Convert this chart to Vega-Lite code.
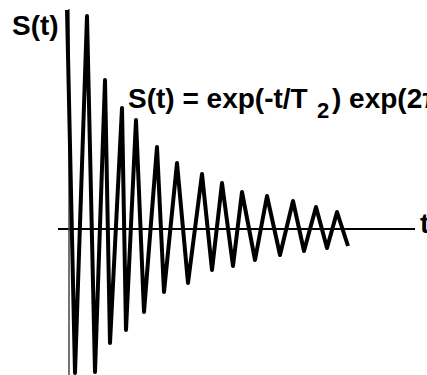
{
  "$schema": "https://vega.github.io/schema/vega-lite/v6.json",
  "width": 427,
  "height": 375,
  "padding": 0,
  "autosize": {"type": "none"},
  "background": "white",
  "config": {"view": {"stroke": null}},
  "datasets": {
    "signal": [
      {"t": -0.2, "S": 2.19},
      {"t": 0.6, "S": -1.44},
      {"t": 1.8, "S": 2.13},
      {"t": 2.6, "S": -1.43},
      {"t": 3.6, "S": 1.49},
      {"t": 4.1, "S": -1.14},
      {"t": 5.3, "S": 1.21},
      {"t": 5.7, "S": -1.01},
      {"t": 6.7, "S": 1.09},
      {"t": 7.5, "S": -0.83},
      {"t": 8.8, "S": 0.82},
      {"t": 9.5, "S": -0.63},
      {"t": 10.8, "S": 0.66},
      {"t": 11.9, "S": -0.54},
      {"t": 13.3, "S": 0.55},
      {"t": 14.3, "S": -0.41},
      {"t": 15.3, "S": 0.46},
      {"t": 16.4, "S": -0.37},
      {"t": 17.3, "S": 0.37},
      {"t": 18.6, "S": -0.31},
      {"t": 19.8, "S": 0.33},
      {"t": 21.1, "S": -0.26},
      {"t": 22.4, "S": 0.28},
      {"t": 23.5, "S": -0.22},
      {"t": 24.7, "S": 0.22},
      {"t": 25.8, "S": -0.19},
      {"t": 26.8, "S": 0.17},
      {"t": 27.9, "S": -0.17}
    ],
    "hAxis": [{"t": -1.1, "t2": 34.6, "S": 0}],
    "vAxis": [{"t": 0, "S": -1.46, "S2": 2.2}],
    "labels": [
      {"t": -5.7, "S": 1.94, "text": "S(t)", "size": 28},
      {"t": 5.9, "S": 1.21, "text": "S(t) = exp(-t/T", "size": 28},
      {"t": 24.8, "S": 1.11, "text": "2", "size": 22},
      {"t": 26.3, "S": 1.21, "text": ") exp(2πiνt)", "size": 28},
      {"t": 35.1, "S": -0.04, "text": "t", "size": 28}
    ]
  },
  "layer": [
    {
      "data": {"name": "hAxis"},
      "mark": {"type": "rule", "color": "black", "strokeWidth": 2},
      "encoding": {
        "x": {"field": "t", "type": "quantitative", "scale": {"domain": [-6.9, 35.8], "nice": false, "zero": false}, "axis": null},
        "x2": {"field": "t2"},
        "y": {"field": "S", "type": "quantitative", "scale": {"domain": [-1.46, 2.29], "nice": false, "zero": false}, "axis": null}
      }
    },
    {
      "data": {"name": "vAxis"},
      "mark": {"type": "rule", "color": "#444", "strokeWidth": 1.5},
      "encoding": {
        "x": {"field": "t", "type": "quantitative"},
        "y": {"field": "S", "type": "quantitative"},
        "y2": {"field": "S2"}
      }
    },
    {
      "data": {"name": "signal"},
      "mark": {"type": "line", "color": "black", "strokeWidth": 4, "interpolate": "linear", "strokeJoin": "round"},
      "encoding": {
        "x": {"field": "t", "type": "quantitative"},
        "y": {"field": "S", "type": "quantitative"}
      }
    },
    {
      "data": {"name": "labels"},
      "mark": {"type": "text", "align": "left", "baseline": "alphabetic", "font": "Liberation Sans Narrow, Liberation Sans, sans-serif", "fontWeight": "bold", "color": "black"},
      "encoding": {
        "x": {"field": "t", "type": "quantitative"},
        "y": {"field": "S", "type": "quantitative"},
        "text": {"field": "text"},
        "size": {"field": "size", "type": "quantitative", "scale": null, "legend": null}
      }
    }
  ]
}
